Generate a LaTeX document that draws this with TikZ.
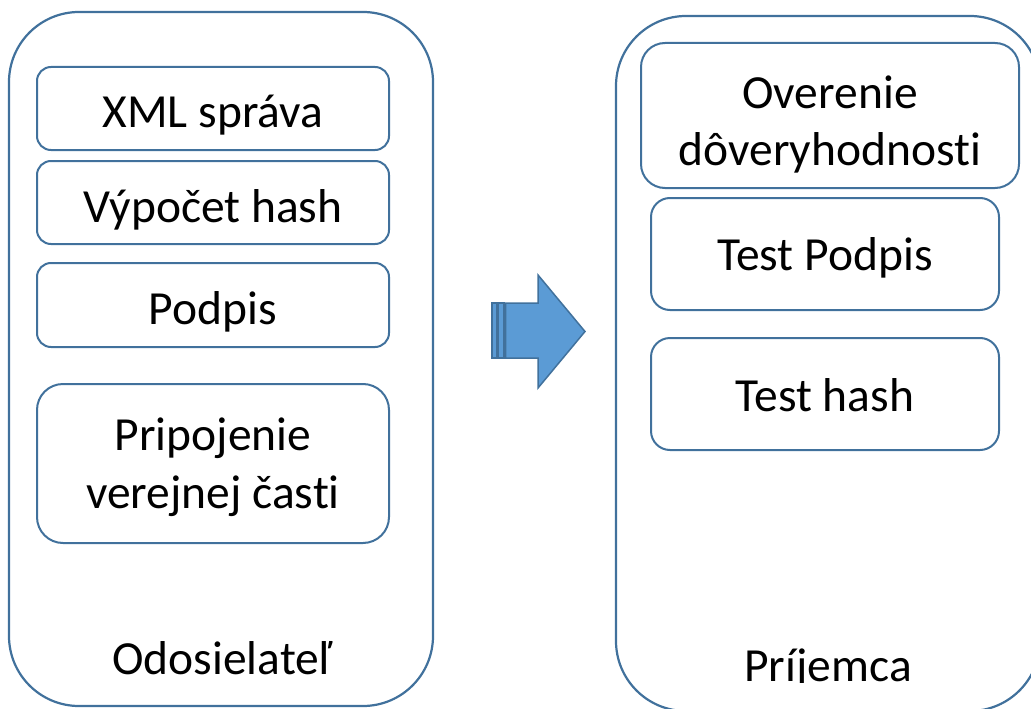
\documentclass[tikz,border=0pt]{standalone}
\usepackage{fontspec}
\setmainfont[Ligatures=NoCommon]{Carlito}
\definecolor{edge}{RGB}{65,113,156}
\definecolor{arrowfill}{RGB}{91,155,213}
\begin{document}
\begin{tikzpicture}[x=1pt,y=-1pt,
  outerbox/.style={draw=edge, line width=2.2pt, rectangle, inner sep=0pt, outer sep=0pt, minimum width=424pt, rounded corners=70pt},
  innerbox/.style={draw=edge, line width=2pt, rectangle, inner sep=0pt, outer sep=0pt},
  lbl/.style={anchor=base, inner sep=0pt, font=\fontsize{47.5}{55}\selectfont, text=black},
  blockarrow/.style={draw=edge, fill=arrowfill, line width=1.5pt, line join=miter}]
\useasboundingbox (0,0) rectangle (1031,709);

% outer containers
\node[outerbox, minimum height=694pt] (sender) at (221,359) {};
\node[outerbox, minimum height=695pt] (receiver) at (828,363.5) {};

% sender steps
\node[innerbox, minimum width=352pt, minimum height=83pt, rounded corners=14pt] (xml) at (213,108.5) {};
\node[innerbox, minimum width=352pt, minimum height=83pt, rounded corners=14pt] (hash) at (213,202.5) {};
\node[innerbox, minimum width=352pt, minimum height=84pt, rounded corners=14pt] (sign) at (213,305) {};
\node[innerbox, minimum width=352pt, minimum height=159pt, rounded corners=26pt] (attach) at (213,463.5) {};

% receiver steps
\node[innerbox, minimum width=378pt, minimum height=145pt, rounded corners=24pt] (verify) at (830,115.5) {};
\node[innerbox, minimum width=348pt, minimum height=112pt, rounded corners=19pt] (testsign) at (825,254) {};
\node[innerbox, minimum width=348pt, minimum height=112pt, rounded corners=19pt] (testhash) at (825,394) {};

% labels
\node[lbl] (xmlL) at (213,128) {XML správa};
\node[lbl] (hashL) at (213,222) {Výpočet hash};
\node[lbl] (signL) at (213,324) {Podpis};
\node[lbl] (attachL1) at (213,450) {Pripojenie};
\node[lbl] (attachL2) at (213,508) {verejnej časti};
\node[lbl] (senderL) at (222,674) {Odosielateľ};

\node[lbl] (verifyL1) at (830,108) {Overenie};
\node[lbl] (verifyL2) at (830,165) {dôveryhodnosti};
\node[lbl] (testsignL) at (825,270) {Test Podpis};
\node[lbl] (testhashL) at (825,411) {Test hash};
\begin{scope}
  \clip (616,600) rectangle (1031,682.5);
  \node[lbl] (receiverL) at (828,681) {Príjemca};
\end{scope}

% striped block arrow
\draw[blockarrow] (492,303) rectangle (497,358);
\draw[blockarrow] (498.5,303) rectangle (504,358);
\draw[blockarrow] (505.5,303) -- (538,303) -- (538,275) -- (585,331.5) -- (538,388) -- (538,358) -- (505.5,358) -- cycle;
\end{tikzpicture}
\end{document}
